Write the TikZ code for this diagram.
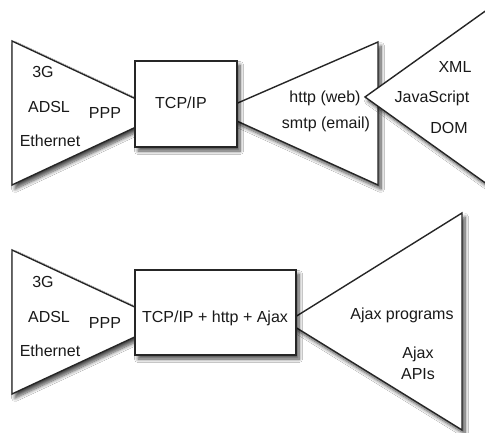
\documentclass[tikz,border=0pt]{standalone}
\usepackage{fontspec}
\setmainfont{Liberation Sans}
\usetikzlibrary{shadows.blur}
\begin{document}
\begin{tikzpicture}[x=1pt,y=-1pt,
  figshape/.style={draw=black!85,line width=1.4pt,fill=white,line join=miter,
    blur shadow={shadow xshift=3pt,shadow yshift=-4pt,shadow blur steps=8,shadow opacity=70,shadow blur radius=3.5pt}},
  lbl/.style={anchor=base,inner sep=0pt,font=\fontsize{16}{19}\selectfont,text=black!90}]
\useasboundingbox (0,0) rectangle (485,433);
\clip (0,0) rectangle (485,433);
\fill[white] (0,0) rectangle (485,433);
% ---------- top row ----------
\draw[figshape] (12,41) -- (166,113) -- (12,185) -- cycle;
\draw[figshape] (378,42) -- (217,112) -- (378,185) -- cycle;
\draw[figshape] (505,-3) -- (365,97) -- (505,197) -- cycle;
\draw[figshape] (135,61) rectangle (237,147);
\node[lbl] (t3g) at (43,78) {3G};
\node[lbl] (tadsl) at (49,113) {ADSL};
\node[lbl] (tppp) at (105,119) {PPP};
\node[lbl] (teth) at (50,147) {Ethernet};
\node[lbl] (ttcp) at (181,109) {TCP/IP};
\node[lbl] (thttp) at (325,103) {http (web)};
\node[lbl] (tsmtp) at (326,129) {smtp (email)};
\node[lbl] (txml) at (455,73) {XML};
\node[lbl] (tjs) at (432,103) {JavaScript};
\node[lbl] (tdom) at (449,134) {DOM};
% ---------- bottom row ----------
\draw[figshape] (12,250) -- (167,322) -- (12,394) -- cycle;
\draw[figshape] (462,213) -- (287,322) -- (462,430) -- cycle;
\draw[figshape] (135,270) rectangle (296,355);
\node[lbl] (b3g) at (43,287) {3G};
\node[lbl] (badsl) at (49,322) {ADSL};
\node[lbl] (bppp) at (105,328) {PPP};
\node[lbl] (beth) at (50,356) {Ethernet};
\node[lbl] (btcp) at (215,322) {TCP/IP + http + Ajax};
\node[lbl] (bprog) at (402,319) {Ajax programs};
\node[lbl] (bajax) at (418,358) {Ajax};
\node[lbl] (bapi) at (418,379) {APIs};
\end{tikzpicture}
\end{document}
